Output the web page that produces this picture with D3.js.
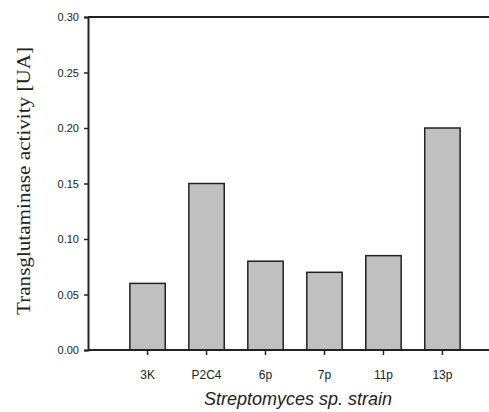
<!DOCTYPE html>
<html>
<head>
<meta charset="utf-8">
<script src="https://cdn.jsdelivr.net/npm/d3@7"></script>
<style>
  body { margin: 0; background: #fff; }
  svg { display: block; }
</style>
</head>
<body>
<script>
const strains = ['3K', 'P2C4', '6p', '7p', '11p', '13p'];
const activity = [0.06, 0.15, 0.08, 0.07, 0.085, 0.20];
const yTicks = [0.00, 0.05, 0.10, 0.15, 0.20, 0.25, 0.30];

const width = 489, height = 412;

const svg = d3.select('body').append('svg')
  .attr('width', width)
  .attr('height', height);

// scales
const x = d3.scaleBand()
  .domain(strains)
  .range([88, 502])
  .paddingInner(0.4)
  .paddingOuter(0.71);

const y = d3.scaleLinear()
  .domain([0, 0.30])
  .range([350, 17]);

// bars
svg.selectAll('.bar')
  .data(strains)
  .enter().append('rect')
  .attr('class', 'bar')
  .attr('x', d => x(d))
  .attr('y', (d, i) => y(activity[i]))
  .attr('width', x.bandwidth())
  .attr('height', (d, i) => y(0) - y(activity[i]))
  .attr('fill', '#c0c0c0')
  .attr('stroke', '#222')
  .attr('stroke-width', 1.5);

// top frame line
svg.append('line')
  .attr('x1', 88).attr('x2', width)
  .attr('y1', y(0.30)).attr('y2', y(0.30))
  .attr('stroke', '#222').attr('stroke-width', 2);

// y axis
const yAxis = svg.append('g')
  .attr('transform', 'translate(88,0)')
  .call(d3.axisLeft(y).tickValues(yTicks).tickFormat(d3.format('.2f')).tickSize(4).tickPadding(5));

// x axis
const xAxis = svg.append('g')
  .attr('transform', `translate(0,${y(0)})`)
  .call(d3.axisBottom(x).tickSize(5).tickPadding(15).tickSizeOuter(0));
xAxis.select('.domain').attr('d', `M88,0H${width}`);

[yAxis, xAxis].forEach(g => {
  g.select('.domain').attr('stroke', '#222').attr('stroke-width', 2);
  g.selectAll('.tick line').attr('stroke', '#222').attr('stroke-width', 1.5);
  g.selectAll('.tick text')
    .attr('fill', '#222')
    .style('font-family', 'Liberation Sans, Arial, sans-serif')
    .style('font-size', '11px');
});
xAxis.selectAll('.tick text').style('font-size', '12px');

// axis titles
svg.append('text')
  .attr('transform', 'translate(30,181) rotate(-90)')
  .attr('text-anchor', 'middle')
  .attr('textLength', 268)
  .attr('lengthAdjust', 'spacingAndGlyphs')
  .style('font-family', 'Liberation Serif, Times New Roman, serif')
  .style('font-size', '19px')
  .attr('fill', '#222')
  .text('Transglutaminase activity [UA]');

svg.append('text')
  .attr('x', 298)
  .attr('y', 405)
  .attr('text-anchor', 'middle')
  .style('font-family', 'Liberation Sans, Arial, sans-serif')
  .style('font-size', '18px')
  .style('font-style', 'italic')
  .attr('fill', '#222')
  .text('Streptomyces sp. strain');
</script>
</body>
</html>
